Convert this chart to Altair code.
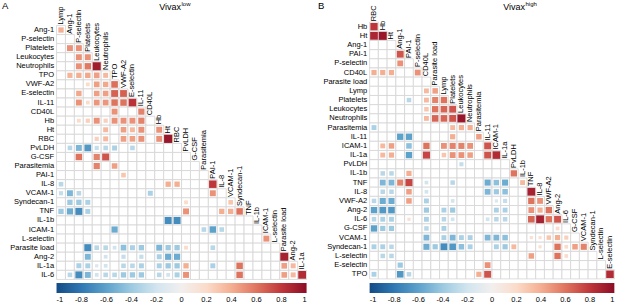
import altair as alt
import pandas as pd

# ---------------- data ----------------
A_vars = ["Lymp", "Ang-1", "P-selectin", "Platelets", "Leukocytes", "Neutrophils", "TPO",
          "VWF-A2", "E-selectin", "IL-11", "CD40L", "Hb", "Ht", "RBC", "PvLDH", "G-CSF",
          "Parasitemia", "PAI-1", "IL-8", "VCAM-1", "Syndecan-1", "TNF", "IL-1b", "ICAM-1",
          "L-selectin", "Parasite load", "Ang-2", "IL-1a", "IL-6"]

B_vars = ["RBC", "Hb", "Ht", "Ang-1", "PAI-1", "P-selectin", "CD40L", "Parasite load", "Lymp",
          "Platelets", "Leukocytes", "Neutrophils", "Parasitemia", "IL-11", "ICAM-1", "IL-1a",
          "PvLDH", "IL-1b", "TNF", "IL-8", "VWF-A2", "Ang-2", "IL-6", "G-CSF", "VCAM-1",
          "Syndecan-1", "L-selectin", "E-selectin", "TPO"]

# (row variable, column variable, correlation)
A_pairs = [
    ("Ang-1", "Lymp", 0.40),
    ("Platelets", "Ang-1", 0.50), ("Platelets", "P-selectin", 0.50),
    ("Leukocytes", "P-selectin", 0.50), ("Leukocytes", "Platelets", 0.50),
    ("Neutrophils", "P-selectin", 0.50), ("Neutrophils", "Platelets", 0.58), ("Neutrophils", "Leukocytes", 0.92),
    ("TPO", "Ang-1", 0.38), ("TPO", "P-selectin", 0.40), ("TPO", "Platelets", 0.42), ("TPO", "Leukocytes", 0.45),
    ("TPO", "Neutrophils", 0.35),
    ("VWF-A2", "Platelets", 0.20), ("VWF-A2", "Leukocytes", 0.45), ("VWF-A2", "Neutrophils", 0.42), ("VWF-A2", "TPO", 0.62),
    ("E-selectin", "P-selectin", 0.42), ("E-selectin", "Leukocytes", 0.45), ("E-selectin", "Neutrophils", 0.45),
    ("E-selectin", "TPO", 0.66), ("E-selectin", "VWF-A2", 0.66),
    ("IL-11", "P-selectin", 0.50), ("IL-11", "Platelets", 0.20), ("IL-11", "Leukocytes", 0.48), ("IL-11", "Neutrophils", 0.48),
    ("IL-11", "TPO", 0.60), ("IL-11", "VWF-A2", 0.60), ("IL-11", "E-selectin", 0.82),
    ("CD40L", "TPO", 0.50), ("CD40L", "IL-11", 0.55),
    ("Hb", "P-selectin", 0.20), ("Hb", "Platelets", 0.25), ("Hb", "Leukocytes", 0.50), ("Hb", "Neutrophils", 0.25),
    ("Hb", "TPO", 0.50), ("Hb", "VWF-A2", 0.50), ("Hb", "E-selectin", 0.50), ("Hb", "IL-11", 0.55),
    ("Ht", "Neutrophils", 0.35), ("Ht", "VWF-A2", 0.45), ("Ht", "E-selectin", 0.35), ("Ht", "IL-11", 0.50), ("Ht", "Hb", 0.50),
    ("RBC", "Leukocytes", 0.25), ("RBC", "Neutrophils", 0.35), ("RBC", "VWF-A2", 0.45), ("RBC", "E-selectin", 0.45),
    ("RBC", "IL-11", 0.50), ("RBC", "Hb", 0.50), ("RBC", "Ht", 0.95),
    ("PvLDH", "Ang-1", -0.30), ("PvLDH", "P-selectin", -0.50), ("PvLDH", "Platelets", -0.65), ("PvLDH", "Leukocytes", -0.25),
    ("PvLDH", "Neutrophils", -0.30), ("PvLDH", "TPO", -0.35), ("PvLDH", "E-selectin", -0.30),
    ("G-CSF", "P-selectin", 0.60), ("G-CSF", "Leukocytes", 0.55), ("G-CSF", "Neutrophils", 0.70),
    ("Parasitemia", "Leukocytes", 0.55), ("Parasitemia", "TPO", 0.45),
    ("PAI-1", "VWF-A2", 0.30),
    ("IL-8", "Lymp", -0.30), ("IL-8", "Ht", 0.40), ("IL-8", "RBC", 0.40), ("IL-8", "PAI-1", 0.80),
    ("VCAM-1", "Lymp", -0.25), ("VCAM-1", "Ang-1", -0.50), ("VCAM-1", "P-selectin", -0.30), ("VCAM-1", "CD40L", -0.35),
    ("VCAM-1", "PAI-1", 0.50),
    ("Syndecan-1", "Ang-1", -0.40), ("Syndecan-1", "P-selectin", -0.40), ("Syndecan-1", "Platelets", -0.35),
    ("Syndecan-1", "PvLDH", 0.20), ("Syndecan-1", "VCAM-1", 0.30),
    ("TNF", "Lymp", -0.40), ("TNF", "Ang-1", -0.55), ("TNF", "P-selectin", -0.70), ("TNF", "Platelets", -0.35),
    ("TNF", "PvLDH", 0.50), ("TNF", "IL-8", 0.40), ("TNF", "VCAM-1", 0.40), ("TNF", "Syndecan-1", 0.60),
    ("IL-1b", "Ht", -0.70), ("IL-1b", "RBC", -0.70),
    ("ICAM-1", "TPO", -0.55), ("ICAM-1", "Parasitemia", -0.30), ("ICAM-1", "PAI-1", -0.60), ("ICAM-1", "IL-8", -0.30),
    ("L-selectin", "ICAM-1", 0.50),
    ("Parasite load", "Platelets", -0.70), ("Parasite load", "Leukocytes", -0.30), ("Parasite load", "Neutrophils", -0.30),
    ("Parasite load", "TPO", -0.20), ("Parasite load", "VWF-A2", -0.45), ("Parasite load", "E-selectin", -0.35),
    ("Parasite load", "IL-11", -0.40), ("Parasite load", "Hb", -0.50), ("Parasite load", "Ht", -0.40),
    ("Parasite load", "RBC", -0.40), ("Parasite load", "PvLDH", 0.20), ("Parasite load", "PAI-1", -0.30),
    ("Ang-2", "Platelets", -0.50), ("Ang-2", "Neutrophils", -0.20), ("Ang-2", "VWF-A2", -0.25), ("Ang-2", "IL-11", -0.25),
    ("Ang-2", "Hb", -0.35), ("Ang-2", "Ht", -0.55), ("Ang-2", "RBC", -0.55), ("Ang-2", "Parasite load", 0.90),
    ("IL-1a", "P-selectin", -0.35), ("IL-1a", "Platelets", -0.35), ("IL-1a", "Leukocytes", -0.15), ("IL-1a", "Neutrophils", -0.20),
    ("IL-1a", "VWF-A2", -0.30), ("IL-1a", "E-selectin", -0.30), ("IL-1a", "IL-11", -0.35), ("IL-1a", "Hb", -0.35),
    ("IL-1a", "Ht", -0.40), ("IL-1a", "RBC", -0.40), ("IL-1a", "PvLDH", 0.40), ("IL-1a", "PAI-1", -0.35),
    ("IL-1a", "Syndecan-1", 0.60), ("IL-1a", "Parasite load", 0.45), ("IL-1a", "Ang-2", 0.35),
    ("IL-6", "Ang-1", -0.30), ("IL-6", "P-selectin", -0.70), ("IL-6", "Platelets", -0.50), ("IL-6", "Leukocytes", -0.20),
    ("IL-6", "Neutrophils", -0.30), ("IL-6", "TPO", -0.30), ("IL-6", "VWF-A2", -0.40), ("IL-6", "E-selectin", -0.40),
    ("IL-6", "IL-11", -0.40), ("IL-6", "Hb", -0.30), ("IL-6", "Ht", -0.20), ("IL-6", "RBC", -0.35),
    ("IL-6", "PvLDH", 0.50), ("IL-6", "Syndecan-1", 0.60), ("IL-6", "Parasite load", 0.45), ("IL-6", "Ang-2", 0.35),
    ("IL-6", "IL-1a", 0.85),
]

B_pairs = [
    ("Hb", "RBC", 0.80),
    ("Ht", "RBC", 0.88), ("Ht", "Hb", 0.95),
    ("PAI-1", "Ang-1", 0.70),
    ("P-selectin", "Ang-1", 0.50),
    ("CD40L", "RBC", 0.40), ("CD40L", "Hb", 0.40), ("CD40L", "Ht", 0.40), ("CD40L", "P-selectin", 0.50),
    ("Lymp", "CD40L", 0.35), ("Lymp", "Parasite load", 0.45),
    ("Platelets", "PAI-1", -0.30), ("Platelets", "CD40L", 0.35), ("Platelets", "Parasite load", 0.55), ("Platelets", "Lymp", 0.60),
    ("Leukocytes", "CD40L", 0.30), ("Leukocytes", "Parasite load", 0.60), ("Leukocytes", "Lymp", 0.65), ("Leukocytes", "Platelets", 0.70),
    ("Neutrophils", "CD40L", 0.35), ("Neutrophils", "Parasite load", 0.65), ("Neutrophils", "Lymp", 0.65),
    ("Neutrophils", "Platelets", 0.70), ("Neutrophils", "Leukocytes", 0.95),
    ("Parasitemia", "RBC", -0.35), ("Parasitemia", "Platelets", 0.35), ("Parasitemia", "Leukocytes", 0.40), ("Parasitemia", "Neutrophils", 0.40),
    ("IL-11", "Ang-1", -0.60), ("IL-11", "PAI-1", -0.60), ("IL-11", "Platelets", 0.40), ("IL-11", "Parasitemia", 0.45),
    ("ICAM-1", "Hb", 0.35), ("ICAM-1", "Ht", 0.45), ("ICAM-1", "PAI-1", -0.45), ("ICAM-1", "CD40L", 0.60),
    ("ICAM-1", "Lymp", 0.50), ("ICAM-1", "Platelets", 0.55), ("ICAM-1", "Leukocytes", 0.55), ("ICAM-1", "Neutrophils", 0.50),
    ("ICAM-1", "IL-11", 0.70),
    ("IL-1a", "Hb", 0.35), ("IL-1a", "Ht", 0.40), ("IL-1a", "PAI-1", -0.60), ("IL-1a", "CD40L", 0.75), ("IL-1a", "Lymp", 0.30),
    ("IL-1a", "Platelets", 0.50), ("IL-1a", "Leukocytes", 0.50), ("IL-1a", "Neutrophils", 0.45), ("IL-1a", "IL-11", 0.70),
    ("IL-1a", "ICAM-1", 0.85),
    ("PvLDH", "Leukocytes", -0.25),
    ("IL-1b", "Hb", -0.30), ("IL-1b", "Ht", -0.30), ("IL-1b", "PAI-1", 0.40), ("IL-1b", "PvLDH", 0.60),
    ("TNF", "Hb", -0.50), ("TNF", "Ht", -0.50), ("TNF", "Ang-1", 0.55), ("TNF", "PAI-1", 0.75), ("TNF", "CD40L", -0.20),
    ("TNF", "Platelets", -0.30), ("TNF", "IL-11", -0.55), ("TNF", "ICAM-1", -0.45), ("TNF", "IL-1a", -0.55), ("TNF", "IL-1b", 0.35),
    ("IL-8", "Hb", -0.30), ("IL-8", "Ht", -0.30), ("IL-8", "PAI-1", 0.45), ("IL-8", "CD40L", -0.20), ("IL-8", "IL-11", -0.50),
    ("IL-8", "ICAM-1", -0.40), ("IL-8", "IL-1a", -0.45), ("IL-8", "TNF", 0.90),
    ("VWF-A2", "RBC", -0.30), ("VWF-A2", "Hb", -0.55), ("VWF-A2", "Ht", -0.55), ("VWF-A2", "PAI-1", 0.45),
    ("VWF-A2", "CD40L", -0.35), ("VWF-A2", "Platelets", -0.20), ("VWF-A2", "ICAM-1", -0.15), ("VWF-A2", "IL-1a", -0.25),
    ("VWF-A2", "TNF", 0.60), ("VWF-A2", "IL-8", 0.50),
    ("Ang-2", "RBC", -0.60), ("Ang-2", "Hb", -0.65), ("Ang-2", "Ht", -0.65), ("Ang-2", "CD40L", -0.40), ("Ang-2", "Lymp", -0.35),
    ("Ang-2", "Platelets", -0.40), ("Ang-2", "ICAM-1", -0.35), ("Ang-2", "IL-1a", -0.35), ("Ang-2", "TNF", 0.50),
    ("Ang-2", "IL-8", 0.40), ("Ang-2", "VWF-A2", 0.60),
    ("IL-6", "RBC", -0.30), ("IL-6", "Hb", -0.35), ("IL-6", "Ht", -0.35), ("IL-6", "PAI-1", 0.15), ("IL-6", "CD40L", -0.35),
    ("IL-6", "Lymp", -0.30), ("IL-6", "Platelets", -0.20), ("IL-6", "IL-11", -0.20), ("IL-6", "ICAM-1", -0.30),
    ("IL-6", "IL-1a", -0.30), ("IL-6", "TNF", 0.65), ("IL-6", "IL-8", 0.90), ("IL-6", "VWF-A2", 0.60), ("IL-6", "Ang-2", 0.70),
    ("G-CSF", "RBC", -0.60), ("G-CSF", "Hb", -0.40), ("G-CSF", "Ht", -0.40), ("G-CSF", "CD40L", -0.30), ("G-CSF", "Lymp", -0.35),
    ("G-CSF", "Ang-2", 0.20),
    ("VCAM-1", "CD40L", -0.50), ("VCAM-1", "Lymp", -0.35), ("VCAM-1", "Platelets", -0.50), ("VCAM-1", "Leukocytes", -0.35),
    ("VCAM-1", "Neutrophils", -0.35), ("VCAM-1", "IL-11", -0.50), ("VCAM-1", "ICAM-1", -0.50), ("VCAM-1", "IL-1a", -0.45),
    ("VCAM-1", "TNF", 0.15), ("VCAM-1", "IL-8", 0.15), ("VCAM-1", "VWF-A2", 0.30), ("VCAM-1", "Ang-2", 0.40), ("VCAM-1", "IL-6", 0.25),
    ("Syndecan-1", "RBC", -0.35), ("Syndecan-1", "Hb", -0.35), ("Syndecan-1", "Ht", -0.30), ("Syndecan-1", "CD40L", -0.55),
    ("Syndecan-1", "Parasite load", -0.40), ("Syndecan-1", "Lymp", -0.70), ("Syndecan-1", "Platelets", -0.65),
    ("Syndecan-1", "Leukocytes", -0.45), ("Syndecan-1", "Neutrophils", -0.35), ("Syndecan-1", "ICAM-1", -0.35),
    ("Syndecan-1", "IL-1a", -0.40), ("Syndecan-1", "PvLDH", 0.35), ("Syndecan-1", "IL-8", 0.15), ("Syndecan-1", "Ang-2", 0.60),
    ("Syndecan-1", "IL-6", 0.20), ("Syndecan-1", "G-CSF", 0.45), ("Syndecan-1", "VCAM-1", 0.55),
    ("L-selectin", "Hb", -0.30), ("L-selectin", "Ht", -0.30), ("L-selectin", "TNF", 0.45), ("L-selectin", "Ang-2", 0.60),
    ("L-selectin", "IL-6", 0.20),
    ("E-selectin", "Ang-1", -0.40), ("E-selectin", "IL-11", 0.50),
    ("TPO", "RBC", -0.35), ("TPO", "Ang-1", -0.65), ("TPO", "PAI-1", -0.30), ("TPO", "Parasitemia", 0.40),
    ("TPO", "IL-11", 0.70), ("TPO", "E-selectin", 0.85),
]

cbar_ticks = [-1, -0.8, -0.6, -0.4, -0.2, 0, 0.2, 0.4, 0.6, 0.8, 1]

# ---------------- layout ----------------
W, H = 617, 304
FONT = "Liberation Sans"
A_geo = dict(x0=61.0, cw=8.93, y0=30.0, ch=9.07)
B_geo = dict(x0=374.0, cw=8.74, y0=26.7, ch=9.17)


def panel(names, pairs, g):
    n = len(names)
    idx = {v: i for i, v in enumerate(names)}
    xs = alt.Scale(domain=[-g["x0"] / g["cw"], (W - g["x0"]) / g["cw"]], nice=False, zero=False)
    ys = alt.Scale(domain=[1 - g["y0"] / g["ch"], 1 + (H - g["y0"]) / g["ch"]],
                   nice=False, zero=False, reverse=True)
    ratio = g["cw"] / g["ch"]

    grid_df = pd.DataFrame([(r, c) for r in range(1, n) for c in range(r)], columns=["r", "c"])
    grid = alt.Chart(grid_df).mark_rect(fill="white", stroke="#d4d4d4", strokeWidth=0.8).transform_calculate(
        xl="datum.c - 0.5", xr="datum.c + 0.5", yt="datum.r - 0.5", yb="datum.r + 0.5"
    ).encode(
        x=alt.X("xl:Q", scale=xs, axis=None), x2="xr:Q",
        y=alt.Y("yt:Q", scale=ys, axis=None), y2="yb:Q",
    )

    sq_df = pd.DataFrame([(idx[a], idx[b], v) for a, b, v in pairs], columns=["r", "c", "v"])
    squares = alt.Chart(sq_df).mark_rect().transform_calculate(
        h="0.47 * sqrt(abs(datum.v))"
    ).transform_calculate(
        xl="datum.c - datum.h", xr="datum.c + datum.h",
        yt=f"datum.r - datum.h * {ratio}", yb=f"datum.r + datum.h * {ratio}"
    ).encode(
        x=alt.X("xl:Q", scale=xs, axis=None), x2="xr:Q",
        y=alt.Y("yt:Q", scale=ys, axis=None), y2="yb:Q",
        color=alt.Color(
            "v:Q",
            scale=alt.Scale(scheme="redblue", domain=[-1, 1], reverse=True),
            legend=alt.Legend(
                orient="none", legendX=g["x0"] - g["cw"] / 2, legendY=283,
                direction="horizontal", gradientLength=(n - 1) * g["cw"], gradientThickness=10,
                gradientStrokeWidth=0, values=cbar_ticks, title=None,
                labelFont=FONT, labelFontSize=7.5, labelColor="black", labelAlign="center",
                labelOffset=3, labelOverlap=False,
                labelExpr="datum.value < 0 ? '-' + format(-datum.value, '~g') : format(datum.value, '~g')",
            ),
        ),
    )

    row_df = pd.DataFrame({"name": names[1:], "r": list(range(1, n))})
    rows = alt.Chart(row_df).mark_text(
        font=FONT, fontSize=7.5, align="right", baseline="middle", color="black"
    ).transform_calculate(lx=f"-0.5 - {2.4 / g['cw']}").encode(
        x=alt.X("lx:Q", scale=xs, axis=None),
        y=alt.Y("r:Q", scale=ys, axis=None),
        text="name:N",
    )

    col_df = pd.DataFrame({"name": names[:-1], "c": list(range(0, n - 1))})
    cols = alt.Chart(col_df).mark_text(
        font=FONT, fontSize=7.5, align="left", baseline="middle", angle=270, color="black"
    ).transform_calculate(ly="datum.c + 0.4").encode(
        x=alt.X("c:Q", scale=xs, axis=None),
        y=alt.Y("ly:Q", scale=ys, axis=None),
        text="name:N",
    )
    return [grid, squares, rows, cols]


def label(txt, x, y, size, align="left"):
    return alt.Chart(pd.DataFrame({"t": [txt]})).mark_text(
        font=FONT, fontSize=size, align=align, baseline="middle", color="black"
    ).encode(x=alt.value(x), y=alt.value(y), text="t:N")


layers = panel(A_vars, A_pairs, A_geo) + panel(B_vars, B_pairs, B_geo)
layers += [
    label("A", 2, 6, 9.5), label("B", 318, 6, 9.5),
    label("Vivax", 181, 7, 9, "right"), label("low", 181.5, 4, 6),
    label("Vivax", 525, 7, 9, "right"), label("high", 525.5, 4, 6),
]

chart = alt.layer(*layers).resolve_scale(
    x="independent", y="independent", color="independent"
).properties(
    width=W, height=H, autosize=alt.AutoSizeParams(type="none"), padding=0, background="white"
).configure_view(strokeWidth=0)

chart.save("out.html", embed_options={"renderer": "svg", "actions": False})
